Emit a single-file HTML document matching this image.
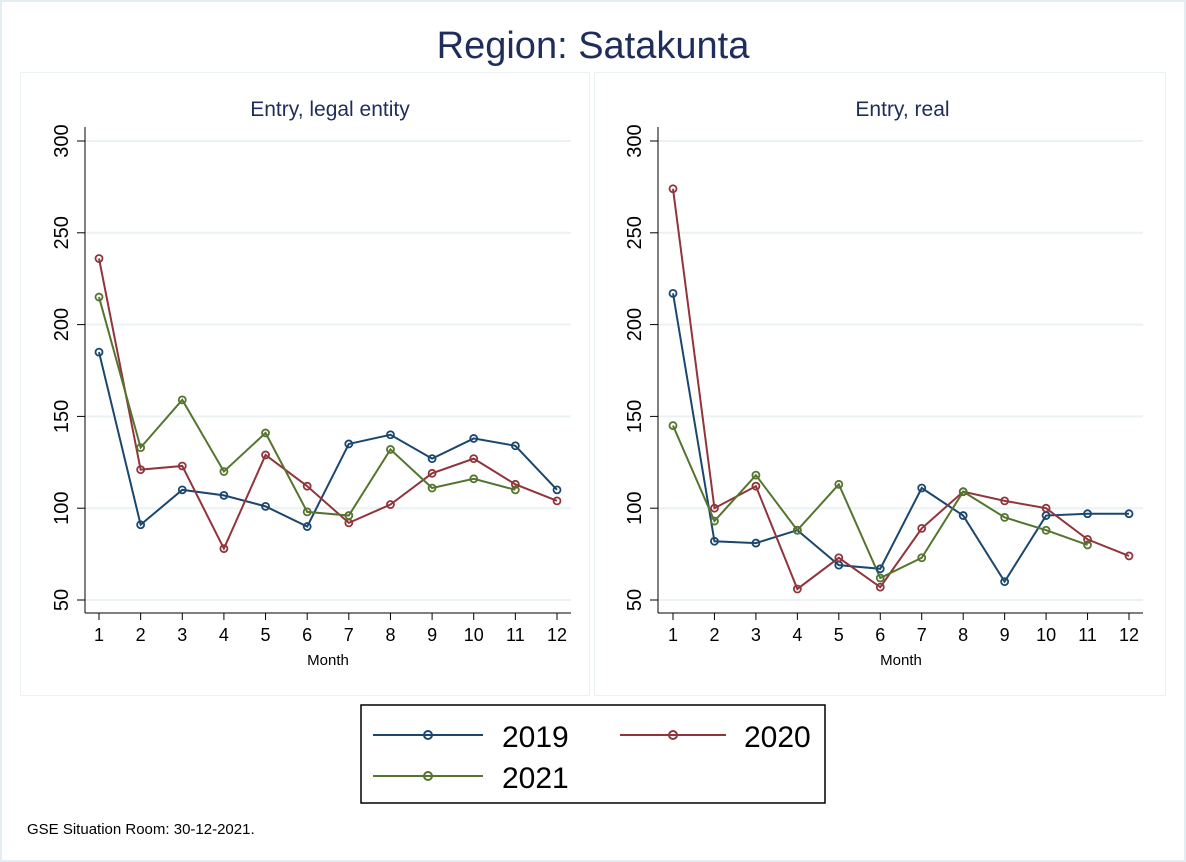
<!DOCTYPE html>
<html><head><meta charset="utf-8"><style>
body{margin:0;background:#fff;}
svg{display:block;font-family:"Liberation Sans",Arial,sans-serif;}
</style></head><body>
<svg id="s" width="1186" height="862" xmlns="http://www.w3.org/2000/svg">
<rect x="1" y="1" width="1184" height="860" fill="#fff" stroke="#e4eef2" stroke-width="2"/>
<text x="593" y="58" text-anchor="middle" font-size="38" fill="#1e2d5a">Region: Satakunta</text>
<rect x="20.5" y="72.5" width="569" height="623" fill="#fff" stroke="#eaf2f3"/>
<rect x="594.5" y="72.5" width="571" height="623" fill="#fff" stroke="#eaf2f3"/>
<rect x="361" y="705" width="464" height="98" fill="#fff" stroke="#000" stroke-width="1.5"/>
<line x1="373" y1="735" x2="483" y2="735" stroke="#1a476f" stroke-width="2"/><circle cx="428" cy="735" r="4" fill="none" stroke="#1a476f" stroke-width="2"/>
<text x="502" y="747" font-size="30" fill="#000">2019</text>
<line x1="620" y1="735" x2="726" y2="735" stroke="#90353b" stroke-width="2"/><circle cx="673" cy="735" r="4" fill="none" stroke="#90353b" stroke-width="2"/>
<text x="744" y="747" font-size="30" fill="#000">2020</text>
<line x1="373" y1="776" x2="483" y2="776" stroke="#55752f" stroke-width="2"/><circle cx="428" cy="776" r="4" fill="none" stroke="#55752f" stroke-width="2"/>
<text x="502" y="788" font-size="30" fill="#000">2021</text>
<text x="27" y="834" font-size="15" fill="#000">GSE Situation Room: 30-12-2021.</text>
</svg>
<script>
const s=document.getElementById('s');const NS='http://www.w3.org/2000/svg';
function el(t,a,txt){const e=document.createElementNS(NS,t);for(const k in a)e.setAttribute(k,a[k]);if(txt!==undefined)e.textContent=txt;s.appendChild(e);return e;}
const Y=v=>600-(v-50)*91.8/50;
function panel(ax,x1,x12,title,data){
  const X=m=>x1+(m-1)*(x12-x1)/11;
  el('text',{x:(ax+x12+14)/2+2,y:116,'text-anchor':'middle','font-size':21,fill:'#1e2d5a'},title);
  for(let v=50;v<=300;v+=50){
    el('line',{x1:ax,y1:Y(v),x2:x12+14,y2:Y(v),stroke:'#eaf2f3','stroke-width':2});
    el('line',{x1:ax-8,y1:Y(v),x2:ax,y2:Y(v),stroke:'#000','stroke-width':1});
    const tx=ax-17,ty=Y(v);
    el('text',{x:tx,y:ty,'text-anchor':'middle','font-size':20,fill:'#000',transform:`rotate(-90 ${tx} ${ty})`},v);
  }
  el('line',{x1:ax,y1:127,x2:ax,y2:613,stroke:'#000','stroke-width':1});
  el('line',{x1:ax,y1:613,x2:x12+14,y2:613,stroke:'#000','stroke-width':1});
  for(let m=1;m<=12;m++){
    el('line',{x1:X(m),y1:613,x2:X(m),y2:620,stroke:'#000'});
    el('text',{x:X(m),y:641,'text-anchor':'middle','font-size':18,fill:'#000'},m);
  }
  el('text',{x:(X(6)+X(7))/2,y:665,'text-anchor':'middle','font-size':15,fill:'#000'},'Month');
  const cols=['#1a476f','#90353b','#55752f'];
  data.forEach((d,i)=>{
    el('polyline',{points:d.map((v,j)=>X(j+1)+','+Y(v)).join(' '),fill:'none',stroke:cols[i],'stroke-width':2});
  });
  data.forEach((d,i)=>d.forEach((v,j)=>el('circle',{cx:X(j+1),cy:Y(v),r:3.5,fill:'none',stroke:cols[i],'stroke-width':1.8})));
}
panel(85,99,557,'Entry, legal entity',[
 [185,91,110,107,101,90,135,140,127,138,134,110],
 [236,121,123,78,129,112,92,102,119,127,113,104],
 [215,133,159,120,141,98,96,132,111,116,110]]);
panel(658,673,1129,'Entry, real',[
 [217,82,81,88,69,67,111,96,60,96,97,97],
 [274,100,112,56,73,57,89,109,104,100,83,74],
 [145,93,118,88,113,62,73,109,95,88,80]]);
</script>
</body></html>
